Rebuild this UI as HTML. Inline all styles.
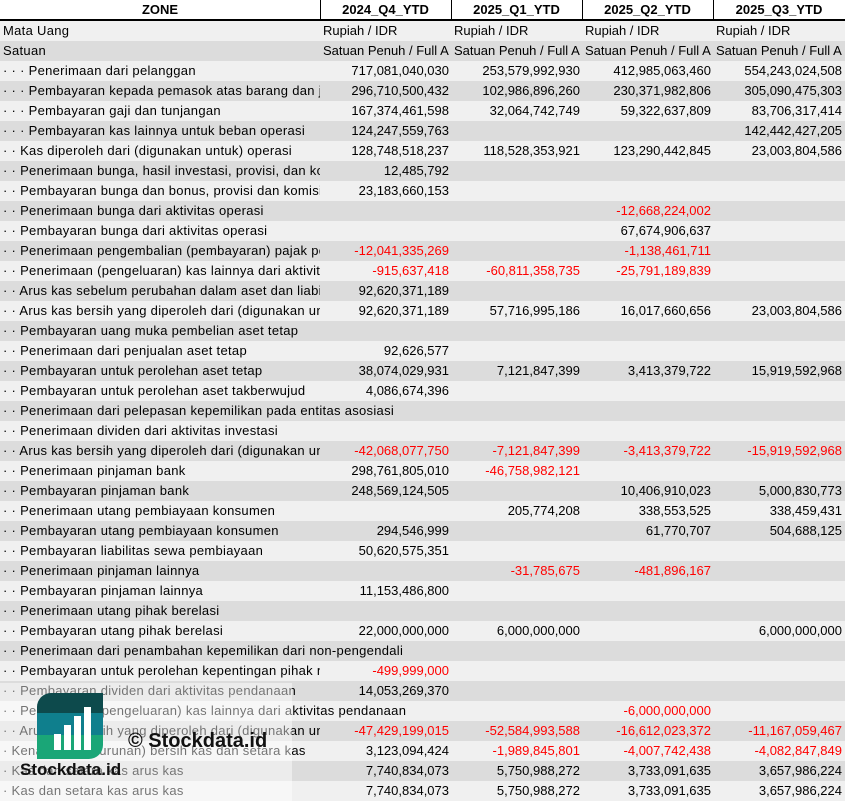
<!DOCTYPE html>
<html><head><meta charset="utf-8"><style>
body{margin:0;width:845px;height:801px;overflow:hidden;background:#fff;font-family:"Liberation Sans",sans-serif;font-size:13px;color:#000}
.r{position:absolute;left:0;width:845px;height:20px;line-height:20px;white-space:nowrap}
.l{background:#f0f0f0}.d{background:#dcdcdc}
.r>span{position:absolute;top:0;height:20px;overflow:hidden}
.a{left:3px;width:317px;letter-spacing:0.3px}
.o{left:3px;width:840px;letter-spacing:0.3px}
.b{left:320px;width:129px;text-align:right}
.c{left:451px;width:129px;text-align:right}
.e{left:582px;width:129px;text-align:right}
.f{left:713px;width:129px;text-align:right}
.bl{left:323px;width:128px}.cl{left:454px;width:128px}.el{left:585px;width:128px}.fl{left:716px;width:129px}
.n{color:#ff0000}
.h{position:absolute;top:0;height:19px;line-height:20px;font-weight:bold;text-align:center;border-bottom:2px solid #000}
.v{position:absolute;top:0;width:1px;height:20px;background:#000}
</style></head><body>
<div class="h" style="left:0;width:320px">ZONE</div>
<div class="h" style="left:320px;width:131px">2024_Q4_YTD</div>
<div class="h" style="left:451px;width:131px">2025_Q1_YTD</div>
<div class="h" style="left:582px;width:131px">2025_Q2_YTD</div>
<div class="h" style="left:713px;width:132px">2025_Q3_YTD</div>
<div class="v" style="left:320px"></div><div class="v" style="left:451px"></div><div class="v" style="left:582px"></div><div class="v" style="left:713px"></div>
<div class="r l" style="top:21px"><span class="a">Mata Uang</span><span class="bl">Rupiah / IDR</span><span class="cl">Rupiah / IDR</span><span class="el">Rupiah / IDR</span><span class="fl">Rupiah / IDR</span></div>
<div class="r d" style="top:41px"><span class="a">Satuan</span><span class="bl">Satuan Penuh / Full A</span><span class="cl">Satuan Penuh / Full A</span><span class="el">Satuan Penuh / Full A</span><span class="fl">Satuan Penuh / Full A</span></div>
<div class="r l" style="top:61px"><span class="a">· · · Penerimaan dari pelanggan</span><span class="b">717,081,040,030</span><span class="c">253,579,992,930</span><span class="e">412,985,063,460</span><span class="f">554,243,024,508</span></div>
<div class="r d" style="top:81px"><span class="a">· · · Pembayaran kepada pemasok atas barang dan jasa</span><span class="b">296,710,500,432</span><span class="c">102,986,896,260</span><span class="e">230,371,982,806</span><span class="f">305,090,475,303</span></div>
<div class="r l" style="top:101px"><span class="a">· · · Pembayaran gaji dan tunjangan</span><span class="b">167,374,461,598</span><span class="c">32,064,742,749</span><span class="e">59,322,637,809</span><span class="f">83,706,317,414</span></div>
<div class="r d" style="top:121px"><span class="a">· · · Pembayaran kas lainnya untuk beban operasi</span><span class="b">124,247,559,763</span><span class="f">142,442,427,205</span></div>
<div class="r l" style="top:141px"><span class="a">· · Kas diperoleh dari (digunakan untuk) operasi</span><span class="b">128,748,518,237</span><span class="c">118,528,353,921</span><span class="e">123,290,442,845</span><span class="f">23,003,804,586</span></div>
<div class="r d" style="top:161px"><span class="a">· · Penerimaan bunga, hasil investasi, provisi, dan komisi</span><span class="b">12,485,792</span></div>
<div class="r l" style="top:181px"><span class="a">· · Pembayaran bunga dan bonus, provisi dan komisi</span><span class="b">23,183,660,153</span></div>
<div class="r d" style="top:201px"><span class="a">· · Penerimaan bunga dari aktivitas operasi</span><span class="e n">-12,668,224,002</span></div>
<div class="r l" style="top:221px"><span class="a">· · Pembayaran bunga dari aktivitas operasi</span><span class="e">67,674,906,637</span></div>
<div class="r d" style="top:241px"><span class="a">· · Penerimaan pengembalian (pembayaran) pajak penghasilan</span><span class="b n">-12,041,335,269</span><span class="e n">-1,138,461,711</span></div>
<div class="r l" style="top:261px"><span class="a">· · Penerimaan (pengeluaran) kas lainnya dari aktivitas operasi</span><span class="b n">-915,637,418</span><span class="c n">-60,811,358,735</span><span class="e n">-25,791,189,839</span></div>
<div class="r d" style="top:281px"><span class="a">· · Arus kas sebelum perubahan dalam aset dan liabilitas</span><span class="b">92,620,371,189</span></div>
<div class="r l" style="top:301px"><span class="a">· · Arus kas bersih yang diperoleh dari (digunakan untuk)</span><span class="b">92,620,371,189</span><span class="c">57,716,995,186</span><span class="e">16,017,660,656</span><span class="f">23,003,804,586</span></div>
<div class="r d" style="top:321px"><span class="o">· · Pembayaran uang muka pembelian aset tetap</span></div>
<div class="r l" style="top:341px"><span class="a">· · Penerimaan dari penjualan aset tetap</span><span class="b">92,626,577</span></div>
<div class="r d" style="top:361px"><span class="a">· · Pembayaran untuk perolehan aset tetap</span><span class="b">38,074,029,931</span><span class="c">7,121,847,399</span><span class="e">3,413,379,722</span><span class="f">15,919,592,968</span></div>
<div class="r l" style="top:381px"><span class="a">· · Pembayaran untuk perolehan aset takberwujud</span><span class="b">4,086,674,396</span></div>
<div class="r d" style="top:401px"><span class="o">· · Penerimaan dari pelepasan kepemilikan pada entitas asosiasi</span></div>
<div class="r l" style="top:421px"><span class="o">· · Penerimaan dividen dari aktivitas investasi</span></div>
<div class="r d" style="top:441px"><span class="a">· · Arus kas bersih yang diperoleh dari (digunakan untuk)</span><span class="b n">-42,068,077,750</span><span class="c n">-7,121,847,399</span><span class="e n">-3,413,379,722</span><span class="f n">-15,919,592,968</span></div>
<div class="r l" style="top:461px"><span class="a">· · Penerimaan pinjaman bank</span><span class="b">298,761,805,010</span><span class="c n">-46,758,982,121</span></div>
<div class="r d" style="top:481px"><span class="a">· · Pembayaran pinjaman bank</span><span class="b">248,569,124,505</span><span class="e">10,406,910,023</span><span class="f">5,000,830,773</span></div>
<div class="r l" style="top:501px"><span class="a">· · Penerimaan utang pembiayaan konsumen</span><span class="c">205,774,208</span><span class="e">338,553,525</span><span class="f">338,459,431</span></div>
<div class="r d" style="top:521px"><span class="a">· · Pembayaran utang pembiayaan konsumen</span><span class="b">294,546,999</span><span class="e">61,770,707</span><span class="f">504,688,125</span></div>
<div class="r l" style="top:541px"><span class="a">· · Pembayaran liabilitas sewa pembiayaan</span><span class="b">50,620,575,351</span></div>
<div class="r d" style="top:561px"><span class="a">· · Penerimaan pinjaman lainnya</span><span class="c n">-31,785,675</span><span class="e n">-481,896,167</span></div>
<div class="r l" style="top:581px"><span class="a">· · Pembayaran pinjaman lainnya</span><span class="b">11,153,486,800</span></div>
<div class="r d" style="top:601px"><span class="o">· · Penerimaan utang pihak berelasi</span></div>
<div class="r l" style="top:621px"><span class="a">· · Pembayaran utang pihak berelasi</span><span class="b">22,000,000,000</span><span class="c">6,000,000,000</span><span class="f">6,000,000,000</span></div>
<div class="r d" style="top:641px"><span class="o">· · Penerimaan dari penambahan kepemilikan dari non-pengendali</span></div>
<div class="r l" style="top:661px"><span class="a">· · Pembayaran untuk perolehan kepentingan pihak nonpengendali</span><span class="b n">-499,999,000</span></div>
<div class="r d" style="top:681px"><span class="a">· · Pembayaran dividen dari aktivitas pendanaan</span><span class="b">14,053,269,370</span></div>
<div class="r l" style="top:701px"><span class="o" style="width:578px">· · Penerimaan (pengeluaran) kas lainnya dari aktivitas pendanaan</span><span class="e n">-6,000,000,000</span></div>
<div class="r d" style="top:721px"><span class="a">· · Arus kas bersih yang diperoleh dari (digunakan untuk)</span><span class="b n">-47,429,199,015</span><span class="c n">-52,584,993,588</span><span class="e n">-16,612,023,372</span><span class="f n">-11,167,059,467</span></div>
<div class="r l" style="top:741px"><span class="a">· Kenaikan (penurunan) bersih kas dan setara kas</span><span class="b">3,123,094,424</span><span class="c n">-1,989,845,801</span><span class="e n">-4,007,742,438</span><span class="f n">-4,082,847,849</span></div>
<div class="r d" style="top:761px"><span class="a">· Kas dan setara kas arus kas</span><span class="b">7,740,834,073</span><span class="c">5,750,988,272</span><span class="e">3,733,091,635</span><span class="f">3,657,986,224</span></div>
<div class="r l" style="top:781px"><span class="a">· Kas dan setara kas arus kas</span><span class="b">7,740,834,073</span><span class="c">5,750,988,272</span><span class="e">3,733,091,635</span><span class="f">3,657,986,224</span></div>
<div style="position:absolute;left:0;top:683px;width:292px;height:118px;background:rgba(255,255,255,0.45)"></div>
<div style="position:absolute;left:37px;top:693px;width:66px;height:66px;border-radius:14px 0 14px 0;overflow:hidden">
<div style="height:20px;background:#0d4a4c"></div><div style="height:22px;background:#0f7f8d"></div><div style="height:24px;background:#1aa677"></div>
<div style="position:absolute;left:17px;top:41px;width:7px;height:16px;background:#fff"></div>
<div style="position:absolute;left:27px;top:32px;width:7px;height:25px;background:#fff"></div>
<div style="position:absolute;left:37px;top:23px;width:7px;height:34px;background:#fff"></div>
<div style="position:absolute;left:47px;top:14px;width:7px;height:43px;background:#fff"></div>
</div>
<div style="position:absolute;left:128px;top:728px;font-size:20px;font-weight:bold;line-height:26px;color:#111">© Stockdata.id</div>
<div style="position:absolute;left:20px;top:759px;font-size:17px;font-weight:bold;line-height:22px;color:#111">Stockdata.id</div>
</body></html>
